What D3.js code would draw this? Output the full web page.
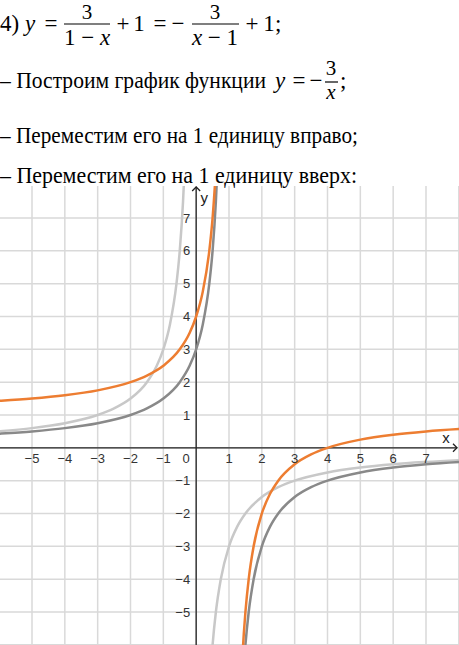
<!DOCTYPE html>
<html>
<head>
<meta charset="utf-8">
<script src="https://cdn.jsdelivr.net/npm/d3@7"></script>
<style>
  body { margin: 0; background: #fff; }
  svg { display: block; }
</style>
</head>
<body>
<script>
// grid / tick values
var xTicks = [-5, -4, -3, -2, -1, 1, 2, 3, 4, 5, 6, 7];
var yTicks = [-5, -4, -3, -2, -1, 1, 2, 3, 4, 5, 6, 7];
var gridX = [-6, -5, -4, -3, -2, -1, 0, 1, 2, 3, 4, 5, 6, 7, 8];
var gridY = [-6, -5, -4, -3, -2, -1, 0, 1, 2, 3, 4, 5, 6, 7, 8];

// y = -3/x  (light gray)
var lightLeftX = [-6.5, -6, -5, -4, -3, -2.5, -2, -1.5, -1.2, -1, -0.8, -0.6, -0.5, -0.4, -0.35];
var lightLeftY = [0.46, 0.5, 0.6, 0.75, 1, 1.2, 1.5, 2, 2.5, 3, 3.75, 5, 6, 7.5, 8.57];
var lightRightX = [0.45, 0.5, 0.6, 0.75, 1, 1.25, 1.5, 2, 2.5, 3, 4, 5, 6, 7, 8.5];
var lightRightY = [-6.67, -6, -5, -4, -3, -2.4, -2, -1.5, -1.2, -1, -0.75, -0.6, -0.5, -0.43, -0.35];

// y = -3/(x-1)  (dark gray)
var darkLeftX = [-6.5, -6, -5, -4, -3, -2, -1.5, -1, -0.5, -0.2, 0, 0.2, 0.4, 0.5, 0.6, 0.65];
var darkLeftY = [0.4, 0.43, 0.5, 0.6, 0.75, 1, 1.2, 1.5, 2, 2.5, 3, 3.75, 5, 6, 7.5, 8.57];
var darkRightX = [1.45, 1.5, 1.6, 1.75, 2, 2.25, 2.5, 3, 3.5, 4, 5, 6, 7, 8.5];
var darkRightY = [-6.67, -6, -5, -4, -3, -2.4, -2, -1.5, -1.2, -1, -0.75, -0.6, -0.5, -0.4];

// y = -3/(x-1) + 1  (orange)
var orangeLeftX = [-6.5, -6, -5, -4, -3, -2, -1.5, -1, -0.5, -0.2, 0, 0.2, 0.4, 0.5, 0.6, 0.65];
var orangeLeftY = [1.4, 1.43, 1.5, 1.6, 1.75, 2, 2.2, 2.5, 3, 3.5, 4, 4.75, 6, 7, 8.5, 9.57];
var orangeRightX = [1.4, 1.45, 1.5, 1.6, 1.75, 2, 2.25, 2.5, 3, 3.5, 4, 5, 6, 7, 8.5];
var orangeRightY = [-6.5, -5.67, -5, -4, -3, -2, -1.4, -1, -0.5, -0.2, 0, 0.25, 0.4, 0.5, 0.6];

var width = 459,
    height = 645;

var svg = d3.select('body')
  .append('svg')
  .attr('width', width)
  .attr('height', height);

var serif = '"Liberation Serif", "DejaVu Serif", serif';
var sans = '"Liberation Sans", Arial, sans-serif';

// ---------- text block on top ----------
var head = svg.append('g')
  .style('font-family', serif)
  .style('font-size', '23px')
  .attr('fill', '#000');

function put(txt, px, py, anchor, italic, size) {
  var t = head.append('text')
    .attr('x', px).attr('y', py)
    .attr('text-anchor', anchor || 'start')
    .style('font-style', italic ? 'italic' : 'normal')
    .text(txt);
  if (size) t.style('font-size', size + 'px');
}
function bar(x1, x2, py) {
  head.append('line')
    .attr('x1', x1).attr('x2', x2)
    .attr('y1', py).attr('y2', py)
    .attr('stroke', '#000').attr('stroke-width', 1.2);
}
function denom(parts, px, py) {
  var t = head.append('text').attr('x', px).attr('y', py).attr('text-anchor', 'middle');
  parts.forEach(function(p) {
    t.append('tspan').style('font-style', p[1] ? 'italic' : 'normal').text(p[0]);
  });
}

// line 1: 4) y = 3/(1-x) + 1 = -3/(x-1) + 1;
put('4)', 0, 31);
put('y', 25, 31, 'start', true);
put('=', 51, 31, 'middle');
put('3', 87, 19, 'middle', false, 21);
bar(64, 110, 24);
denom([['1 \u2212 ', false], ['x', true]], 87, 45);
put('+', 123, 31, 'middle');
put('1', 139, 31, 'middle');
put('=', 160, 31, 'middle');
put('\u2212', 178, 31, 'middle');
put('3', 215, 19, 'middle', false, 21);
bar(192, 239, 24);
denom([['x', true], [' \u2212 1', false]], 215, 45);
put('+', 252, 31, 'middle');
put('1', 269, 31, 'middle');
put(';', 275, 31);

// line 2
head.append('text').attr('x', 0).attr('y', 88)
  .attr('textLength', 266).attr('lengthAdjust', 'spacingAndGlyphs')
  .text('\u2013 Построим график функции');
put('y', 275, 88, 'start', true);
put('=', 299, 88, 'middle');
put('\u2212', 316, 88, 'middle');
put('3', 331, 75, 'middle', false, 21);
bar(325, 338, 82);
put('x', 331, 99, 'middle', true, 21);
put(';', 340, 88);

// lines 3 and 4
head.append('text').attr('x', 0).attr('y', 143)
  .attr('textLength', 358).attr('lengthAdjust', 'spacingAndGlyphs')
  .text('\u2013 Переместим его на 1 единицу вправо;');
head.append('text').attr('x', 0).attr('y', 183)
  .attr('textLength', 357).attr('lengthAdjust', 'spacingAndGlyphs')
  .text('\u2013 Переместим его на 1 единицу вверх:');

// ---------- graph ----------
var plotTop = 186;
var x = d3.scaleLinear().domain([-5, 7]).range([32, 426]);
var y = d3.scaleLinear().domain([7, -5]).range([218, 612]);

svg.append('clipPath').attr('id', 'plot')
  .append('rect')
  .attr('x', 0).attr('y', plotTop)
  .attr('width', width).attr('height', height - plotTop);

var plot = svg.append('g').attr('clip-path', 'url(#plot)');

// grid
plot.selectAll('.gx').data(gridX).enter().append('line')
  .attr('class', 'gx')
  .attr('x1', function(d) { return x(d); })
  .attr('x2', function(d) { return x(d); })
  .attr('y1', plotTop).attr('y2', height)
  .attr('stroke', '#d9d9d9').attr('stroke-width', 1.5);

plot.selectAll('.gy').data(gridY).enter().append('line')
  .attr('class', 'gy')
  .attr('y1', function(d) { return y(d); })
  .attr('y2', function(d) { return y(d); })
  .attr('x1', 0).attr('x2', width)
  .attr('stroke', '#d9d9d9').attr('stroke-width', 1.5);

// axes
var x0 = x(0), y0 = y(0);
plot.append('line')
  .attr('x1', 0).attr('x2', width - 2)
  .attr('y1', y0).attr('y2', y0)
  .attr('stroke', '#222').attr('stroke-width', 1.3);
plot.append('path')
  .attr('d', 'M' + (width - 6) + ',' + (y0 - 4) + 'L' + (width - 2) + ',' + y0 + 'L' + (width - 6) + ',' + (y0 + 4))
  .attr('fill', 'none').attr('stroke', '#222').attr('stroke-width', 1.3);

plot.append('line')
  .attr('x1', x0).attr('x2', x0)
  .attr('y1', height).attr('y2', plotTop + 1)
  .attr('stroke', '#222').attr('stroke-width', 1.3);
plot.append('path')
  .attr('d', 'M' + (x0 - 4) + ',' + (plotTop + 5) + 'L' + x0 + ',' + (plotTop + 1) + 'L' + (x0 + 4) + ',' + (plotTop + 5))
  .attr('fill', 'none').attr('stroke', '#222').attr('stroke-width', 1.3);

// curves
var line = d3.line()
  .x(function(d) { return x(d[0]); })
  .y(function(d) { return y(d[1]); })
  .curve(d3.curveMonotoneX);

function pts(xs, ys) {
  return xs.map(function(v, i) { return [v, ys[i]]; });
}

var branches = [
  { p: pts(lightLeftX, lightLeftY), c: '#c8c8c8' },
  { p: pts(lightRightX, lightRightY), c: '#c8c8c8' },
  { p: pts(darkLeftX, darkLeftY), c: '#898989' },
  { p: pts(darkRightX, darkRightY), c: '#898989' },
  { p: pts(orangeLeftX, orangeLeftY), c: '#ed7d31' },
  { p: pts(orangeRightX, orangeRightY), c: '#ed7d31' }
];

plot.selectAll('.curve').data(branches).enter().append('path')
  .attr('class', 'curve')
  .attr('d', function(d) { return line(d.p); })
  .attr('fill', 'none')
  .attr('stroke', function(d) { return d.c; })
  .attr('stroke-width', 2.5);

// tick labels
var fmt = function(d) { return d < 0 ? '\u2212' + Math.abs(d) : String(d); };

svg.selectAll('.xl').data(xTicks).enter().append('text')
  .attr('class', 'xl')
  .attr('x', function(d) { return x(d); })
  .attr('y', y0 + 15)
  .attr('text-anchor', 'middle')
  .style('font-family', sans).style('font-size', '13px')
  .attr('fill', '#333')
  .text(fmt);

svg.append('text')
  .attr('x', x0 - 10).attr('y', y0 + 15)
  .attr('text-anchor', 'middle')
  .style('font-family', sans).style('font-size', '13px')
  .attr('fill', '#333')
  .text('0');

svg.selectAll('.yl').data(yTicks).enter().append('text')
  .attr('class', 'yl')
  .attr('x', x0 - 6)
  .attr('y', function(d) { return y(d); })
  .attr('dy', '0.35em')
  .attr('text-anchor', 'end')
  .style('font-family', sans).style('font-size', '13px')
  .attr('fill', '#333')
  .text(fmt);

// axis names
svg.append('text')
  .attr('x', 446).attr('y', y0 - 5)
  .attr('text-anchor', 'middle')
  .style('font-family', sans).style('font-size', '15px')
  .attr('fill', '#222')
  .text('x');
svg.append('text')
  .attr('x', x0 + 8).attr('y', plotTop + 17)
  .attr('text-anchor', 'middle')
  .style('font-family', sans).style('font-size', '15px')
  .attr('fill', '#222')
  .text('y');
</script>
</body>
</html>
